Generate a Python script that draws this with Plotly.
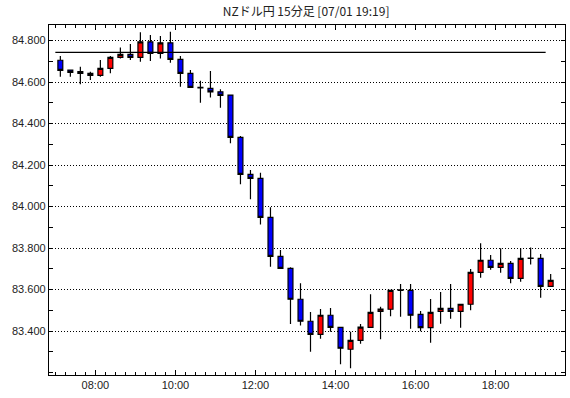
import pandas as pd
import plotly.graph_objects as go

times = pd.date_range("2024-07-01 07:00", periods=50, freq="15min")

opens = [84.705, 84.658, 84.650, 84.642, 84.632, 84.666, 84.719, 84.733, 84.719, 84.794,
         84.738, 84.789, 84.709, 84.642, 84.575, 84.570, 84.553, 84.537, 84.333, 84.155,
         84.136, 83.948, 83.760, 83.702, 83.553, 83.447, 83.384, 83.476, 83.418, 83.312,
         83.355, 83.418, 83.495, 83.505, 83.598, 83.596, 83.480, 83.416, 83.495, 83.509,
         83.495, 83.529, 83.683, 83.741, 83.707, 83.726, 83.654, 83.752, 83.750, 83.615]
highs = [84.725, 84.658, 84.674, 84.650, 84.706, 84.725, 84.767, 84.783, 84.840, 84.827,
         84.822, 84.842, 84.725, 84.658, 84.606, 84.653, 84.565, 84.537, 84.340, 84.176,
         84.163, 83.996, 83.790, 83.707, 83.630, 83.492, 83.506, 83.511, 83.418, 83.397,
         83.434, 83.577, 83.517, 83.596, 83.627, 83.627, 83.496, 83.554, 83.588, 83.627,
         83.529, 83.699, 83.823, 83.766, 83.799, 83.737, 83.799, 83.803, 83.771, 83.675]
lows = [84.626, 84.626, 84.589, 84.610, 84.626, 84.642, 84.714, 84.706, 84.698, 84.702,
        84.714, 84.693, 84.577, 84.572, 84.500, 84.526, 84.476, 84.305, 84.107, 84.035,
        83.914, 83.710, 83.702, 83.434, 83.426, 83.300, 83.363, 83.397, 83.240, 83.220,
        83.339, 83.418, 83.360, 83.471, 83.469, 83.411, 83.399, 83.344, 83.435, 83.459,
        83.416, 83.500, 83.657, 83.695, 83.681, 83.630, 83.638, 83.721, 83.560, 83.615]
closes = [84.656, 84.647, 84.642, 84.632, 84.666, 84.719, 84.733, 84.719, 84.794, 84.738,
          84.789, 84.709, 84.642, 84.574, 84.572, 84.553, 84.536, 84.333, 84.155, 84.136,
          83.948, 83.760, 83.702, 83.553, 83.447, 83.384, 83.476, 83.418, 83.317, 83.355,
          83.419, 83.490, 83.506, 83.596, 83.596, 83.476, 83.416, 83.490, 83.509, 83.495,
          83.529, 83.683, 83.741, 83.707, 83.726, 83.654, 83.750, 83.750, 83.615, 83.644]

ref_level = 84.743
ref_x = [times[0], times[-1]]
ref_y = [ref_level, ref_level]

y_tickvals = [83.4, 83.6, 83.8, 84.0, 84.2, 84.4, 84.6, 84.8]
title_text = "NZドル円 15分足 [07/01 19:19]"

fig = go.Figure()
fig.add_trace(go.Scatter(x=ref_x, y=ref_y, mode="lines",
                         line=dict(color="black", width=1.3),
                         hoverinfo="skip", showlegend=False))
fig.add_trace(go.Candlestick(
    x=times, open=opens, high=highs, low=lows, close=closes,
    xperiod=15 * 60 * 1000, xperiodalignment="middle",
    increasing=dict(line=dict(color="black", width=1.2), fillcolor="#ff0000"),
    decreasing=dict(line=dict(color="black", width=1.2), fillcolor="#0000ff"),
    whiskerwidth=0, showlegend=False))

font = dict(family="Liberation Sans, Arial, sans-serif", size=11, color="#222222")

fig.update_layout(
    width=570, height=398,
    margin=dict(l=49, r=5, t=25, b=23, autoexpand=False),
    paper_bgcolor="white", plot_bgcolor="white",
    title=dict(text=title_text, x=0.537, xanchor="center", y=0.97, yanchor="middle",
               font=dict(family="Noto Sans CJK JP, sans-serif", size=12, color="#222222"),
               automargin=False),
    font=font,
    showlegend=False,
    boxgap=0.3,
)
fig.update_xaxes(
    type="date", automargin=False,
    range=[pd.Timestamp("2024-07-01 06:50:30"), pd.Timestamp("2024-07-01 19:44:00")],
    rangeslider=dict(visible=False),
    showgrid=False, zeroline=False,
    showline=True, linecolor="black", linewidth=1.3, mirror="ticks",
    ticks="inside", ticklen=5, tickcolor="black", tickwidth=1,
    dtick=2 * 3600 * 1000, tick0="2024-07-01 00:00",
    tickformat="%H:%M", tickfont=font,
    minor=dict(ticks="inside", ticklen=3, dtick=15 * 60 * 1000, tick0="2024-07-01 00:00",
               tickcolor="black", showgrid=False),
)
fig.update_yaxes(
    range=[83.188, 84.875], automargin=False,
    tickvals=y_tickvals, tickformat=".3f", tickfont=font,
    showgrid=True, gridcolor="black", griddash="1px,2px", gridwidth=1,
    zeroline=False,
    showline=True, linecolor="black", linewidth=1.3, mirror="ticks",
    ticks="",
    minor=dict(ticks="inside", ticklen=4, dtick=0.1, tick0=83.3, tickcolor="black", showgrid=False),
)

fig.write_html("out.html",
               config={"displayModeBar": False},
               post_script="document.body.style.margin='0';document.body.style.padding='0';")
